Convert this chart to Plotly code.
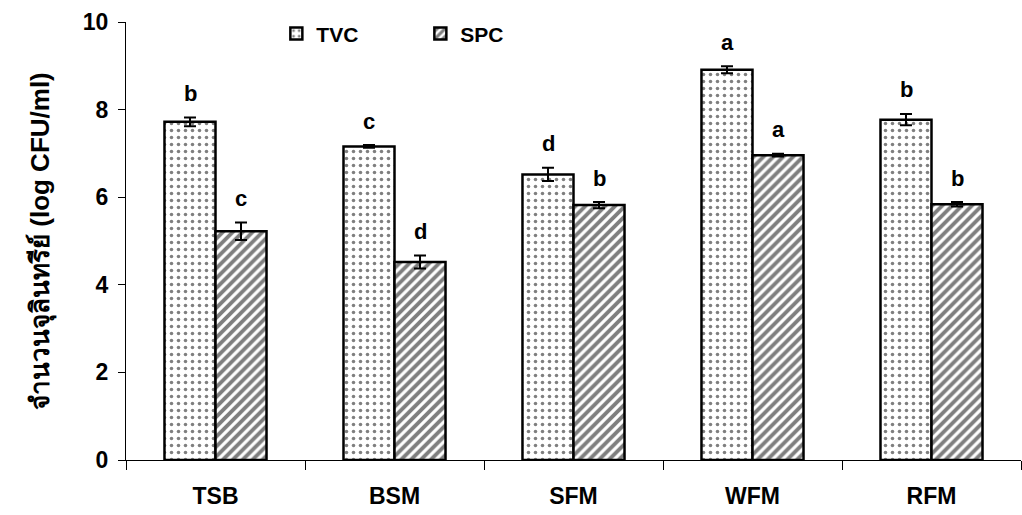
import plotly.graph_objects as go

categories = ["TSB", "BSM", "SFM", "WFM", "RFM"]
tvc = [7.72, 7.16, 6.52, 8.91, 7.77]
tvc_err = [0.10, 0.03, 0.15, 0.08, 0.13]
tvc_letters = ["b", "c", "d", "a", "b"]
spc = [5.22, 4.52, 5.82, 6.96, 5.84]
spc_err = [0.20, 0.15, 0.07, 0.03, 0.05]
spc_letters = ["c", "d", "b", "a", "b"]
y_title = "จำนวนจุลินทรีย์ (log CFU/ml)"

BOLD = dict(family="Liberation Sans, Arial, sans-serif", color="black", weight="bold")
NARROW = dict(family="Liberation Sans Narrow, Arial Narrow, Liberation Sans, sans-serif", color="black", weight="bold")

fig = go.Figure()
fig.add_trace(go.Bar(
    name="TVC", x=categories, y=tvc,
    marker=dict(color="white", line=dict(color="black", width=2.5),
                pattern=dict(shape=".", fgcolor="black", bgcolor="white", size=7, solidity=0.2)),
    error_y=dict(type="data", array=tvc_err, color="black", thickness=2, width=6),
))
fig.add_trace(go.Bar(
    name="SPC", x=categories, y=spc,
    marker=dict(color="white", line=dict(color="black", width=2.5),
                pattern=dict(shape="/", fgcolor="black", bgcolor="white", size=7, solidity=0.55)),
    error_y=dict(type="data", array=spc_err, color="black", thickness=2, width=6),
))

for i, c in enumerate(categories):
    fig.add_annotation(x=c, y=tvc[i] + tvc_err[i], text=tvc_letters[i], showarrow=False,
                       xshift=-25.5, yshift=24, yanchor="middle",
                       font=dict(size=22, **BOLD))
    fig.add_annotation(x=c, y=spc[i] + spc_err[i], text=spc_letters[i], showarrow=False,
                       xshift=25.5, yshift=24, yanchor="middle",
                       font=dict(size=22, **BOLD))

fig.add_annotation(xref="paper", yref="paper", x=-0.095, y=0.5, text=y_title,
                   textangle=-90, showarrow=False, xanchor="center", yanchor="middle",
                   font=dict(size=26, **BOLD))

fig.update_layout(
    width=1022, height=515,
    margin=dict(l=126, r=1, t=22, b=55),
    paper_bgcolor="white", plot_bgcolor="white",
    barmode="group", bargap=0.43, bargroupgap=0,
    showlegend=True,
    legend=dict(orientation="h", x=0.168, y=1.02, xanchor="left", yanchor="top",
                font=dict(size=21, **BOLD),
                bgcolor="rgba(0,0,0,0)", entrywidth=99, entrywidthmode="pixels"),
)
fig.update_xaxes(
    showline=True, linecolor="black", linewidth=1,
    ticks="outside", tickson="boundaries", ticklen=9, tickcolor="black",
    tickfont=dict(size=23, **NARROW), ticklabelstandoff=15,
    showgrid=False, zeroline=False,
)
fig.update_yaxes(
    range=[0, 10], dtick=2, tick0=0,
    showline=True, linecolor="black", linewidth=1,
    ticks="outside", ticklen=7, tickcolor="black",
    tickfont=dict(size=23, **BOLD), ticklabelstandoff=5,
    showgrid=False, zeroline=False,
)

fig.write_html("out.html")
